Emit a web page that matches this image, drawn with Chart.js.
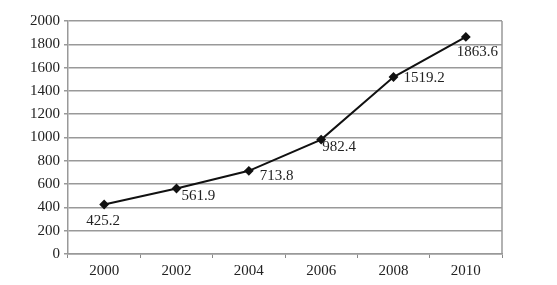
<!DOCTYPE html>
<html>
<head>
<meta charset="utf-8">
<script src="https://cdn.jsdelivr.net/npm/chart.js@4"></script>
<style>
  html, body { margin: 0; padding: 0; background: #fff; }
  #wrap { width: 557px; height: 285px; }
</style>
</head>
<body>
<div id="wrap"><canvas id="c" width="557" height="285"></canvas></div>
<script>
const years = ['2000', '2002', '2004', '2006', '2008', '2010'];
const values = [425.2, 561.9, 713.8, 982.4, 1519.2, 1863.6];
const valueLabels = ['425.2', '561.9', '713.8', '982.4', '1519.2', '1863.6'];
const yMin = 0, yMax = 2000, yStep = 200;

const FONT = '"Liberation Serif", "Times New Roman", serif';

const labelPlugin = {
  id: 'valueLabels',
  afterDatasetsDraw(chart, args, opts) {
    const ctx = chart.ctx;
    const meta = chart.getDatasetMeta(0);
    ctx.save();
    ctx.font = '15px ' + FONT;
    ctx.fillStyle = '#222';
    ctx.textBaseline = 'middle';
    meta.data.forEach((pt, i) => {
      const o = opts.offsets[i];
      ctx.textAlign = o[2];
      ctx.fillText(valueLabels[i], pt.x + o[0], pt.y + o[1]);
    });
    ctx.restore();
  }
};

const framePlugin = {
  id: 'frame',
  beforeDatasetsDraw(chart) {
    const a = chart.chartArea, ctx = chart.ctx;
    ctx.save();
    ctx.strokeStyle = '#999';
    ctx.lineWidth = 1.5;
    ctx.beginPath();
    ctx.moveTo(a.right, a.top);
    ctx.lineTo(a.right, a.bottom);
    ctx.stroke();
    ctx.restore();
  }
};

new Chart(document.getElementById('c'), {
  type: 'line',
  data: {
    labels: years,
    datasets: [{
      data: values,
      borderColor: '#111',
      borderWidth: 2,
      backgroundColor: '#111',
      pointStyle: 'rectRot',
      pointRadius: 3.5,
      pointBackgroundColor: '#111',
      pointBorderColor: '#111',
      tension: 0,
      fill: false
    }]
  },
  options: {
    responsive: false,
    animation: false,
    events: [],
    layout: { padding: { left: 0, right: 55, top: 21, bottom: 0 } },
    plugins: {
      legend: { display: false },
      tooltip: { enabled: false },
      valueLabels: {
        offsets: [
          [-1, 17, 'center'],
          [5, 8, 'left'],
          [11, 5, 'left'],
          [1, 8, 'left'],
          [10, 1, 'left'],
          [-9, 15, 'left']
        ]
      }
    },
    scales: {
      x: {
        offset: true,
        grid: { display: true, drawOnChartArea: false, offset: true, tickLength: 4, color: '#888', lineWidth: 1 },
        border: { display: true, color: '#999', width: 1.5 },
        ticks: { font: { family: FONT, size: 15 }, color: '#222', padding: 4, maxRotation: 0 },
        afterFit(s) { s.height = 31; }
      },
      y: {
        min: yMin, max: yMax,
        grid: { color: '#999', lineWidth: 1.5, tickLength: 4 },
        border: { display: true, color: '#999', width: 1.5 },
        ticks: {
          stepSize: yStep, font: { family: FONT, size: 15 }, color: '#222', padding: 4,
          callback: (v) => String(v)
        },
        afterFit(s) { s.width = 68; }
      }
    }
  },
  plugins: [framePlugin, labelPlugin]
});
</script>
</body>
</html>
